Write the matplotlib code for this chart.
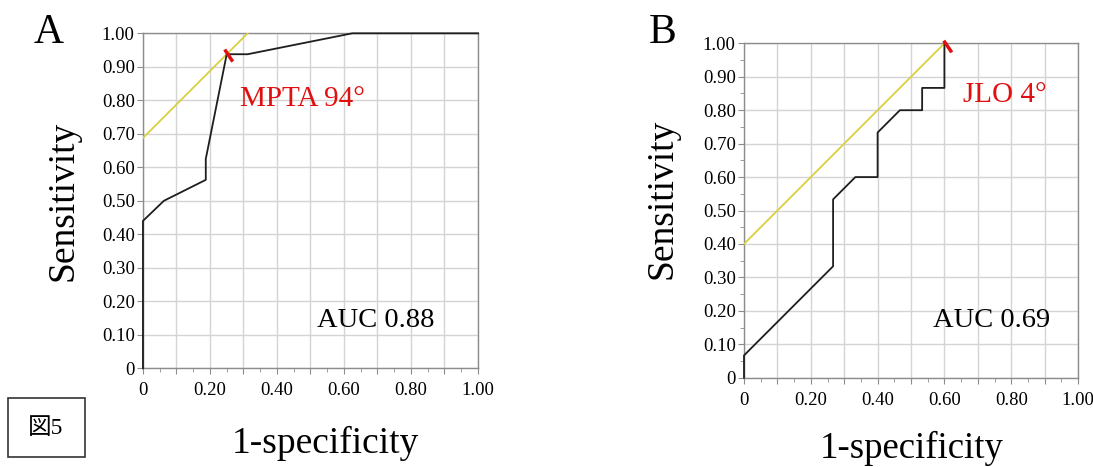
import matplotlib.pyplot as plt
import numpy as np

# ROC curve points
fpr_a = [0, 0, 0.0625, 0.1875, 0.1875, 0.25, 0.3125, 0.625, 1.0]
tpr_a = [0, 0.44, 0.50, 0.5625, 0.625, 0.9375, 0.9375, 1.0, 1.0]
fpr_b = [0, 0, 0.2667, 0.2667, 0.3333, 0.40, 0.40, 0.4667, 0.5333, 0.5333, 0.60, 0.60]
tpr_b = [0, 0.0667, 0.3333, 0.5333, 0.60, 0.60, 0.7333, 0.80, 0.80, 0.8667, 0.8667, 1.0]

# cut-off points (Youden) and the yellow tangent lines
cut_a = (0.25, 0.9375)
cut_b = (0.60, 1.0)
yline_a_x = [0, 0.3125]
yline_a_y = [0.6875, 1.0]
yline_b_x = [0, 0.60]
yline_b_y = [0.40, 1.0]

xticks = np.arange(0, 1.01, 0.1)
xlabels = ["0", "", "0.20", "", "0.40", "", "0.60", "", "0.80", "", "1.00"]
yticks = np.arange(0, 1.01, 0.1)
ylabels = ["0", "0.10", "0.20", "0.30", "0.40", "0.50", "0.60", "0.70", "0.80", "0.90", "1.00"]

plt.rcParams['font.family'] = ['Liberation Serif', 'Noto Sans CJK JP']

fig = plt.figure(figsize=(10.93, 4.67), dpi=100)
ax_a = fig.add_axes([0.1308, 0.2114, 0.3065, 0.7173])
ax_b = fig.add_axes([0.6807, 0.1912, 0.3056, 0.7160])


def style(ax, yminor):
    ax.set_xlim(0, 1)
    ax.set_ylim(0, 1)
    ax.set_xticks(xticks)
    ax.set_xticklabels(xlabels)
    ax.set_yticks(yticks)
    ax.set_yticklabels(ylabels)
    ax.set_xticks(np.arange(0.05, 1.0, 0.1), minor=True)
    if yminor:
        ax.set_yticks(np.arange(0.05, 1.0, 0.1), minor=True)
    ax.grid(True, which='major', color='#d4d4d4', lw=1.0)
    ax.set_axisbelow(True)
    for s in ax.spines.values():
        s.set_color('#8c8c8c')
        s.set_linewidth(1.0)
    ax.tick_params(which='major', length=4, color='#8c8c8c', labelsize=13.5)
    ax.tick_params(axis='y', which='major', pad=2)
    ax.tick_params(axis='x', which='major', pad=6)
    ax.tick_params(which='minor', length=3, color='#8c8c8c')


for ax, fx, ty, lx, ly, ym in [(ax_a, fpr_a, tpr_a, yline_a_x, yline_a_y, False),
                                (ax_b, fpr_b, tpr_b, yline_b_x, yline_b_y, True)]:
    style(ax, ym)
    ax.plot(lx, ly, color='#d8d040', lw=1.3, zorder=3)
    ax.plot(fx, ty, color='#1e1e1e', lw=1.3, zorder=4, clip_on=False)

# red cut-off marks
ax_a.plot([cut_a[0] - 0.006, cut_a[0] + 0.018], [cut_a[1] + 0.014, cut_a[1] - 0.022],
          color='#e01010', lw=2.5, zorder=5, clip_on=False, solid_capstyle='butt')
ax_b.plot([cut_b[0] - 0.002, cut_b[0] + 0.022], [cut_b[1] + 0.008, cut_b[1] - 0.027],
          color='#e01010', lw=2.5, zorder=5, clip_on=False, solid_capstyle='butt')

ax_a.text(0.29, 0.783, "MPTA 94°", color='#e01010', fontsize=21, va='baseline')
ax_a.text(0.519, 0.124, "AUC 0.88", color='black', fontsize=20.5, va='baseline')
ax_b.text(0.656, 0.825, "JLO 4°", color='#e01010', fontsize=21, va='baseline')
ax_b.text(0.566, 0.1525, "AUC 0.69", color='black', fontsize=20.5, va='baseline')

# panel letters and axis titles
fig.text(49 / 1093, 1 - 42.7 / 467, "A", fontsize=30, ha='center', va='baseline')
fig.text(663 / 1093, 1 - 42.7 / 467, "B", fontsize=30, ha='center', va='baseline')
fig.text(63 / 1093, 1 - 201 / 467, "Sensitivity", fontsize=27, rotation=90,
         ha='center', va='center')
fig.text(662 / 1093, 1 - 199 / 467, "Sensitivity", fontsize=27, rotation=90,
         ha='center', va='center')
fig.text(325 / 1093, 1 - 452.7 / 467, "1-specificity", fontsize=27, ha='center', va='baseline')
fig.text(912 / 1093, 1 - 458 / 467, "1-specificity", fontsize=26.5, ha='center', va='baseline')

# "図5" box
box = plt.Rectangle((8 / 1093, 1 - 457 / 467), 77 / 1093, 59 / 467, transform=fig.transFigure,
                    fill=False, edgecolor='#333333', lw=1.2)
fig.patches.append(box)
fig.text(46 / 1093, 1 - 428 / 467, "図5", fontsize=17, ha='center', va='center')

fig.savefig('out.png', dpi=100)
